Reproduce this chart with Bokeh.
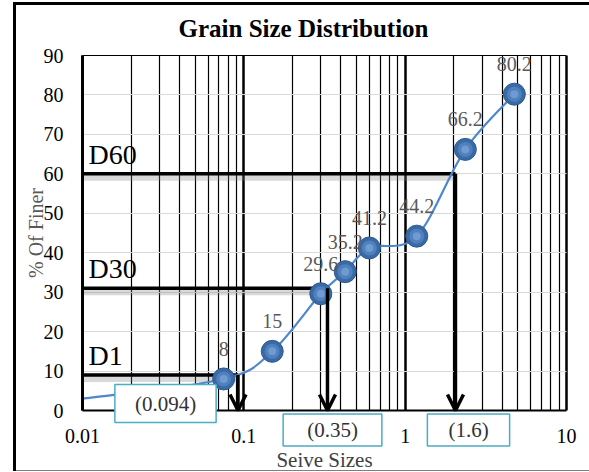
import numpy as np
from bokeh.plotting import figure
from bokeh.models import (Range1d, FixedTicker, CustomJSTickFormatter, Label,
                          Arrow, OpenHead, ColumnDataSource, Grid)
from bokeh.core.properties import value
from bokeh.embed import file_html
from bokeh.resources import INLINE

# ---------------- data ----------------
title_text = "Grain  Size Distribution"
sieve_mm = [0.075, 0.15, 0.3, 0.425, 0.6, 1.18, 2.36, 4.75]
percent_finer = [8, 15, 29.6, 35.2, 41.2, 44.2, 66.2, 80.2]
point_labels = ["8", "15", "29.6", "35.2", "41.2", "44.2", "66.2", "80.2"]
# curve continues to the left edge of the chart without a marker
curve_start_x = [0.01]
curve_start_y = [3.0]

d_names = ["D1", "D30", "D60"]
d_levels = [9, 31, 60]
d_sizes_drawn = [0.092, 0.33, 2.05]
d_value_labels = ["(0.094)", "(0.35)", "(1.6)"]

x_ticks = [0.01, 0.1, 1, 10]
y_ticks = [0, 10, 20, 30, 40, 50, 60, 70, 80, 90]

FONT = "Liberation Serif"
W, H = 589, 472
PLOT_LEFT, PLOT_RIGHT, PLOT_TOP, PLOT_BOTTOM = 82, 566, 55, 410  # pixel edges of 0.01..10 / 0..90
DEC = (PLOT_RIGHT - PLOT_LEFT) / 3.0
PX_PER_UNIT = (PLOT_BOTTOM - PLOT_TOP) / 90.0
x_lo = 10 ** (np.log10(x_ticks[0]) - PLOT_LEFT / DEC)
x_hi = 10 ** (np.log10(x_ticks[-1]) + (W - PLOT_RIGHT) / DEC)
y_lo = -(H - PLOT_BOTTOM) / PX_PER_UNIT
y_hi = y_ticks[-1] + PLOT_TOP / PX_PER_UNIT

p = figure(x_axis_type="log", x_range=Range1d(x_lo, x_hi), y_range=Range1d(y_lo, y_hi),
           frame_width=W, frame_height=H, width=W, height=H,
           min_border=0, output_backend="svg", toolbar_location=None,
           background_fill_color="white", border_fill_color="white")
p.border_fill_alpha = 0
p.background_fill_alpha = 0
p.styles = {"background": (
    "linear-gradient(#000,#000) 13px 2px / 3px 469px no-repeat, "
    "linear-gradient(#000,#000) 13px 2px / 576px 3px no-repeat, "
    "linear-gradient(#7f7f7f,#7f7f7f) 13px 470px / 576px 1px no-repeat, #fff")}
p.outline_line_color = None

# title (inside the canvas-wide frame)
p.add_layout(Label(x=178, y=H - 28, x_units="screen", y_units="screen",
                   text=title_text, text_font=FONT, text_font_size="25px",
                   text_font_style="bold", text_color="black",
                   text_align="left", text_baseline="alphabetic"))

# x axis (drawn at y = 0)
p.xaxis.fixed_location = 0
p.xaxis.bounds = (x_ticks[0], x_ticks[-1])
p.xaxis.ticker = FixedTicker(ticks=x_ticks,
                             minor_ticks=[k * 10.0 ** e for e in (-2, -1, 0) for k in range(2, 10)])
p.xaxis.formatter = CustomJSTickFormatter(code="return tick.toString()")
p.xaxis.axis_label = "Seive Sizes"
p.xaxis.axis_line_color = "black"
p.xaxis.axis_line_width = 2
p.xaxis.major_tick_line_color = None
p.xaxis.minor_tick_line_color = None
p.xaxis.major_tick_out = 0
p.xaxis.major_label_standoff = 14
p.xaxis.axis_label_standoff = 2
p.xaxis.major_label_text_font = FONT
p.xaxis.major_label_text_font_size = "20px"
p.xaxis.major_label_text_color = "black"
p.xaxis.axis_label_text_font = FONT
p.xaxis.axis_label_text_font_size = "21px"
p.xaxis.axis_label_text_font_style = "normal"
p.xaxis.axis_label_text_color = "#404040"

# y axis (drawn at x = 0.01)
p.yaxis.fixed_location = x_ticks[0]
p.yaxis.bounds = (0, 90)
p.yaxis.ticker = FixedTicker(ticks=y_ticks)
p.yaxis.axis_label = "% Of Finer"
p.yaxis.axis_line_color = "black"
p.yaxis.axis_line_width = 3
p.yaxis.major_tick_line_color = None
p.yaxis.minor_tick_line_color = None
p.yaxis.major_tick_out = 0
p.yaxis.major_label_standoff = 19
p.yaxis.axis_label_standoff = -6
p.yaxis.major_label_text_font = FONT
p.yaxis.major_label_text_font_size = "20px"
p.yaxis.major_label_text_color = "black"
p.yaxis.axis_label_text_font = FONT
p.yaxis.axis_label_text_font_size = "20px"
p.yaxis.axis_label_text_font_style = "normal"
p.yaxis.axis_label_text_color = "#595959"

# grids
p.xgrid.grid_line_color = "black"
p.xgrid.grid_line_width = 2.5
p.xgrid.minor_grid_line_color = "black"
p.xgrid.minor_grid_line_width = 1.2
p.xgrid.bounds = (x_ticks[0], x_ticks[-1])
p.xgrid.cross_bounds = (0, 90)
p.ygrid.grid_line_color = "#d9d9d9"
p.ygrid.grid_line_width = 1
p.ygrid.bounds = (0, 90)
p.ygrid.cross_bounds = (x_ticks[0], x_ticks[-1])

# top edge of the plot area
p.add_layout(Grid(dimension=1, ticker=FixedTicker(ticks=[y_ticks[-1]]),
                  grid_line_color="black", grid_line_width=1.2,
                  bounds=(0, 100), cross_bounds=(x_ticks[0], x_ticks[-1])))

# ---------------- D reference lines ----------------
left_edge = [x_ticks[0]] * len(d_levels)
shadow = ColumnDataSource(dict(x0=left_edge, x1=d_sizes_drawn,
                               y=[v - 1.0 for v in d_levels]))
p.segment(x0="x0", y0="y", x1="x1", y1="y", source=shadow,
          line_color="#808080", line_alpha=0.3, line_width=6)
dsrc = ColumnDataSource(dict(x0=left_edge, x1=d_sizes_drawn, y=d_levels,
                             name=d_names))
p.segment(x0="x0", y0="y", x1="x1", y1="y", source=dsrc,
          line_color="black", line_width=3.5)
p.text(x="x0", y="y", text="name", source=dsrc, x_offset=6, y_offset=-4,
       text_font=value(FONT), text_font_size="28px", text_color="black",
       text_align="left", text_baseline="bottom")

# ---------------- smooth curve (Catmull-Rom in screen proportions) ----------------
cx = np.array(curve_start_x + sieve_mm, dtype=float)
cy = np.array(curve_start_y + percent_finer, dtype=float)
su, sv = DEC, PX_PER_UNIT
pts = np.column_stack([np.log10(cx) * su, cy * sv])
n = len(pts)
bz = dict(x0=[], y0=[], x1=[], y1=[], cx0=[], cy0=[], cx1=[], cy1=[])


def back(q):
    return 10 ** (q[0] / su), q[1] / sv


for i in range(n - 1):
    p0 = pts[max(i - 1, 0)]
    p1 = pts[i]
    p2 = pts[i + 1]
    p3 = pts[min(i + 2, n - 1)]
    c1 = p1 + (p2 - p0) / 6.0
    c2 = p2 - (p3 - p1) / 6.0
    a, b, c, d = back(p1), back(p2), back(c1), back(c2)
    bz["x0"].append(a[0]); bz["y0"].append(a[1])
    bz["x1"].append(b[0]); bz["y1"].append(b[1])
    bz["cx0"].append(c[0]); bz["cy0"].append(c[1])
    bz["cx1"].append(d[0]); bz["cy1"].append(d[1])
p.bezier(x0="x0", y0="y0", x1="x1", y1="y1", cx0="cx0", cy0="cy0",
         cx1="cx1", cy1="cy1", source=ColumnDataSource(bz),
         line_color="#4f87cc", line_width=2.2)

# ---------------- arrows ----------------
for xs, lv in zip(d_sizes_drawn, d_levels):
    p.add_layout(Arrow(end=OpenHead(size=16, line_width=3.5, line_color="black"),
                       x_start=xs, y_start=lv, x_end=xs, y_end=0,
                       line_color="black", line_width=3.5))

# ---------------- markers ----------------
psrc = ColumnDataSource(dict(x=sieve_mm, y=percent_finer, lab=point_labels))
p.scatter(x="x", y="y", source=psrc, size=22, fill_color="#3a6aa5",
          line_color="#2f5a8f", line_width=1)
p.scatter(x="x", y="y", source=psrc, size=15, fill_color="#4f81bd",
          line_color=None)
p.scatter(x="x", y="y", source=psrc, size=8, fill_color="#6f9ad2",
          line_color=None)
p.text(x="x", y="y", text="lab", source=psrc, y_offset=-30,
       text_font=value(FONT), text_font_size="20px", text_color="#595959",
       text_align="center", text_baseline="middle")

# ---------------- value boxes (screen offsets from the frame's lower-left) ----------------
box_sx = [165, 332, 468]
box_sy = [69, 42.5, 42.5]
box_pad = [dict(left=20, right=20, top=7, bottom=7),
           dict(left=24, right=24, top=4, bottom=4),
           dict(left=21, right=21, top=4, bottom=4)]
for txt, bx, by, pad in zip(d_value_labels, box_sx, box_sy, box_pad):
    p.add_layout(Label(x=bx, y=by, x_units="screen", y_units="screen", text=txt,
                       text_font=FONT, text_font_size="21px",
                       text_color="#333333", text_align="center",
                       text_baseline="middle", background_fill_color="white",
                       border_line_color="#4bacc6", border_line_width=1.5,
                       padding=pad))

open("out.html", "w").write(file_html(p, INLINE))
